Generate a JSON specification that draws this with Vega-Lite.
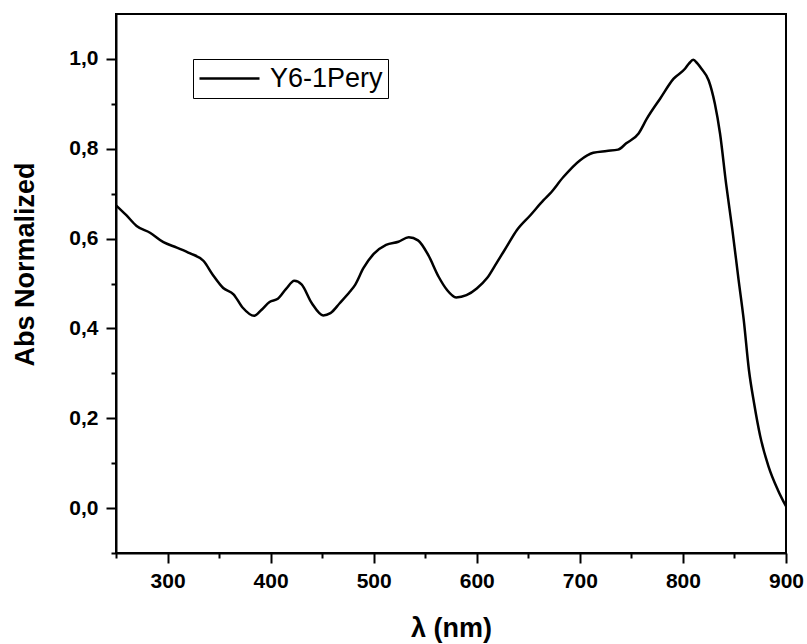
{
  "$schema": "https://vega.github.io/schema/vega-lite/v6.json",
  "autosize": "none",
  "width": 670,
  "height": 539,
  "padding": {"left": 116, "top": 14, "right": 21, "bottom": 91},
  "background": "white",
  "config": {
    "view": {"stroke": "black", "strokeWidth": 2},
    "font": "Liberation Sans"
  },
  "data": {"values": [
    {"nm": 250, "abs": 0.674}, {"nm": 260, "abs": 0.652}, {"nm": 270, "abs": 0.628},
    {"nm": 283, "abs": 0.613}, {"nm": 296, "abs": 0.592}, {"nm": 309, "abs": 0.580},
    {"nm": 322, "abs": 0.567}, {"nm": 335, "abs": 0.550}, {"nm": 344, "abs": 0.519},
    {"nm": 354, "abs": 0.490}, {"nm": 364, "abs": 0.476}, {"nm": 373, "abs": 0.446},
    {"nm": 384, "abs": 0.428}, {"nm": 391, "abs": 0.441}, {"nm": 399, "abs": 0.459},
    {"nm": 407, "abs": 0.466}, {"nm": 415, "abs": 0.488}, {"nm": 423, "abs": 0.506},
    {"nm": 430, "abs": 0.498}, {"nm": 440, "abs": 0.456}, {"nm": 451, "abs": 0.429},
    {"nm": 458, "abs": 0.434}, {"nm": 467, "abs": 0.456}, {"nm": 477, "abs": 0.482},
    {"nm": 482, "abs": 0.497}, {"nm": 490, "abs": 0.534}, {"nm": 500, "abs": 0.566},
    {"nm": 512, "abs": 0.586}, {"nm": 524, "abs": 0.593}, {"nm": 534, "abs": 0.603},
    {"nm": 543, "abs": 0.596}, {"nm": 553, "abs": 0.563}, {"nm": 563, "abs": 0.515},
    {"nm": 571, "abs": 0.486}, {"nm": 580, "abs": 0.469}, {"nm": 590, "abs": 0.474},
    {"nm": 600, "abs": 0.489}, {"nm": 610, "abs": 0.512}, {"nm": 619, "abs": 0.545},
    {"nm": 629, "abs": 0.582}, {"nm": 639, "abs": 0.619}, {"nm": 652, "abs": 0.652},
    {"nm": 665, "abs": 0.686}, {"nm": 671, "abs": 0.700}, {"nm": 684, "abs": 0.737},
    {"nm": 700, "abs": 0.774}, {"nm": 713, "abs": 0.791}, {"nm": 726, "abs": 0.795},
    {"nm": 737, "abs": 0.798}, {"nm": 745, "abs": 0.812}, {"nm": 757, "abs": 0.834},
    {"nm": 765, "abs": 0.867}, {"nm": 778, "abs": 0.912}, {"nm": 791, "abs": 0.956},
    {"nm": 802, "abs": 0.978}, {"nm": 806, "abs": 0.990}, {"nm": 810, "abs": 0.998},
    {"nm": 814, "abs": 0.990}, {"nm": 818, "abs": 0.978}, {"nm": 825, "abs": 0.952},
    {"nm": 831, "abs": 0.900}, {"nm": 836, "abs": 0.834}, {"nm": 842, "abs": 0.720},
    {"nm": 848, "abs": 0.619}, {"nm": 854, "abs": 0.508}, {"nm": 859, "abs": 0.419},
    {"nm": 864, "abs": 0.308}, {"nm": 869, "abs": 0.234}, {"nm": 875, "abs": 0.160},
    {"nm": 883, "abs": 0.093}, {"nm": 892, "abs": 0.041}, {"nm": 900, "abs": 0.004}
  ]},
  "mark": {"type": "line", "strokeWidth": 2.5, "interpolate": "monotone"},
  "encoding": {
    "x": {
      "field": "nm", "type": "quantitative",
      "scale": {"domain": [250, 900], "nice": false, "zero": false},
      "axis": {
        "title": "λ (nm)",
        "values": [250, 300, 350, 400, 450, 500, 550, 600, 650, 700, 750, 800, 850, 900],
        "labelExpr": "datum.value % 100 === 0 ? datum.label : ''",
        "format": "d",
        "grid": false,
        "domainColor": "black", "domainWidth": 2,
        "tickColor": "black", "tickWidth": 2,
        "tickSize": {"condition": {"test": "datum.value % 100 === 0", "value": 10}, "value": 5},
        "labelFont": "Liberation Sans", "labelFontSize": 21, "labelFontWeight": "bold", "labelColor": "black",
        "labelPadding": 7, "labelFlush": false,
        "titleFont": "Liberation Sans", "titleFontSize": 27, "titleFontWeight": "bold", "titleColor": "black",
        "titleX": 335, "titleY": 75, "titleBaseline": "middle"
      }
    },
    "y": {
      "field": "abs", "type": "quantitative",
      "scale": {"domain": [-0.1, 1.1], "nice": false, "zero": false},
      "axis": {
        "title": "Abs Normalized",
        "values": [-0.1, 0, 0.1, 0.2, 0.3, 0.4, 0.5, 0.6, 0.7, 0.8, 0.9, 1.0],
        "labelExpr": "abs(datum.value*5 - round(datum.value*5)) < 0.01 ? replace(format(datum.value, '.1f'), '.', ',') : ''",
        "grid": false,
        "domainColor": "black", "domainWidth": 2,
        "tickColor": "black", "tickWidth": 2,
        "tickSize": {"condition": {"test": "abs(datum.value*5 - round(datum.value*5)) < 0.01", "value": 10}, "value": 5},
        "labelFont": "Liberation Sans", "labelFontSize": 21, "labelFontWeight": "bold", "labelColor": "black",
        "labelPadding": 8, "labelFlush": false,
        "titleFont": "Liberation Sans", "titleFontSize": 27, "titleFontWeight": "bold", "titleColor": "black",
        "titleX": -91, "titleY": 250, "titleBaseline": "middle", "titleAngle": -90
      }
    },
    "color": {
      "datum": "Y6-1Pery", "type": "nominal",
      "scale": {"range": ["black"]},
      "legend": {
        "title": null, "orient": "none", "legendX": 77, "legendY": 45,
        "symbolType": "stroke", "symbolSize": 3600, "symbolStrokeWidth": 2.5,
        "labelFont": "Liberation Sans", "labelFontSize": 27, "labelColor": "black",
        "labelOffset": 9, "padding": 5, "strokeColor": "black", "clipHeight": 29
      }
    }
  }
}
